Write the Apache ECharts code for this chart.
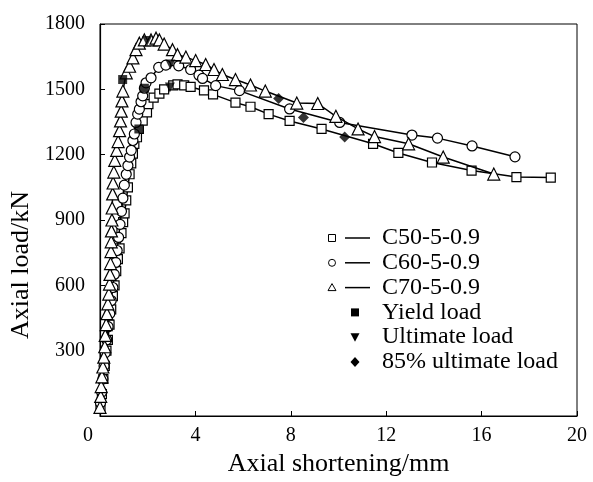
<!DOCTYPE html>
<html><head><meta charset="utf-8">
<script src="https://cdn.jsdelivr.net/npm/echarts@6/dist/echarts.min.js"></script>
<style>html,body{margin:0;padding:0;background:#fff}#c{width:593px;height:482px}</style>
</head><body><div id="c"></div>
<script>
const seriesNames = ['C50-5-0.9', 'C60-5-0.9', 'C70-5-0.9'];
const markerNames = ['Yield load', 'Ultimate load', '85% ultimate load'];
const xTitle = 'Axial shortening/mm';
const yTitle = 'Axial load/kN';

const c50 = [[0.02,40],[0.08,100],[0.14,170],[0.2,230],[0.27,300],[0.33,350],[0.4,420],[0.47,490],[0.54,550],[0.61,600],[0.68,665],[0.75,720],[0.82,770],[0.9,840],[0.97,890],[1.03,930],[1.1,990],[1.17,1050],[1.24,1110],[1.31,1160],[1.38,1205],[1.44,1250],[1.55,1280],[1.63,1318],[1.79,1356],[1.97,1394],[2.03,1432],[2.25,1462],[2.49,1480],[2.69,1500],[3.07,1518],[3.25,1523],[3.53,1518],[3.8,1511],[4.36,1495],[4.74,1477],[5.68,1439],[6.31,1420],[7.07,1386],[7.95,1355],[9.29,1318],[11.45,1250],[12.51,1208],[13.92,1164],[15.58,1127],[17.46,1097],[18.9,1095]];
const c60 = [[0.02,60],[0.07,110],[0.12,170],[0.17,230],[0.22,290],[0.28,350],[0.34,410],[0.41,470],[0.47,530],[0.54,590],[0.6,650],[0.66,705],[0.72,760],[0.78,820],[0.84,880],[0.9,940],[0.96,1000],[1.02,1060],[1.1,1110],[1.17,1150],[1.24,1189],[1.31,1220],[1.38,1265],[1.44,1295],[1.51,1348],[1.58,1386],[1.65,1409],[1.72,1443],[1.79,1470],[1.86,1505],[1.93,1530],[2.14,1553],[2.46,1601],[2.76,1611],[3.3,1608],[3.8,1591],[4.15,1565],[4.3,1550],[4.85,1517],[5.85,1494],[7.95,1410],[10.05,1348],[13.08,1290],[14.15,1276],[15.6,1240],[17.4,1190]];
const c70 = [[0.0,40],[0.03,90],[0.05,135],[0.08,180],[0.12,225],[0.16,270],[0.2,318],[0.22,370],[0.26,420],[0.29,470],[0.33,515],[0.37,560],[0.4,606],[0.42,650],[0.44,700],[0.46,755],[0.47,800],[0.48,850],[0.5,900],[0.51,955],[0.53,1020],[0.55,1070],[0.58,1120],[0.62,1174],[0.7,1220],[0.76,1260],[0.82,1310],[0.86,1355],[0.89,1400],[0.92,1447],[0.96,1492],[1.1,1576],[1.24,1606],[1.38,1644],[1.51,1682],[1.65,1712],[1.86,1727],[2.14,1727],[2.35,1735],[2.49,1727],[2.69,1708],[3.04,1682],[3.25,1659],[3.6,1648],[4.01,1632],[4.43,1614],[4.78,1591],[5.13,1568],[5.68,1545],[6.31,1520],[6.93,1492],[8.25,1437],[9.13,1435],[9.89,1376],[10.82,1318],[11.51,1283],[12.94,1250],[14.39,1189],[16.51,1111]];
const yieldPts = [[0.95,1545],[1.86,1505],[1.63,1318]];
const ultimatePts = [[1.97,1722],[2.95,1614],[2.93,1508]];
const pct85Pts = [[7.49,1458],[8.53,1371],[10.26,1281]];

const FONT = 'Liberation Serif';
const chart = echarts.init(document.getElementById('c'), null, {renderer: 'canvas'});

const lineSymbols = ['rect', 'circle', 'triangle'];
const lineSymbolSizes = [9, 10, 12];
const lineData = [c50, c60, c70];
const markData = [yieldPts, ultimatePts, pct85Pts];
const markSymbols = ['rect', 'triangle', 'diamond'];
const markRotate = [0, 180, 0];
const markSizes = [9, 10, 11];

const series = [];
lineData.forEach((d, i) => {
  series.push({
    name: seriesNames[i], type: 'line', data: d,
    symbol: lineSymbols[i], symbolSize: lineSymbolSizes[i], showAllSymbol: true,
    lineStyle: {color: '#000', width: 1.5},
    itemStyle: {color: '#fff', borderColor: '#000', borderWidth: 1.2},
    z: 2 + i, animation: false
  });
});
markData.forEach((d, i) => {
  series.push({
    name: markerNames[i], type: 'scatter', data: d,
    symbol: markSymbols[i], symbolSize: markSizes[i], symbolRotate: markRotate[i],
    itemStyle: {color: '#000'}, z: 10, animation: false
  });
});

// legend drawn as graphic elements
const legendX = 332, legendY = 238, rowH = 24.8, textX = 382;
const LEGEND_FONT = '24px "Liberation Serif"';
const graphic = [];
const legendShapes = [
  {type: 'rect', shape: {x: -3.5, y: -3.5, width: 7, height: 7}},
  {type: 'circle', shape: {cx: 0, cy: 0, r: 3.5}},
  {type: 'polygon', shape: {points: [[0, -4], [4, 3], [-4, 3]]}}
];
seriesNames.forEach((n, i) => {
  const y = legendY + i * rowH;
  graphic.push(Object.assign({}, legendShapes[i], {x: legendX, y: y, style: {fill: '#fff', stroke: '#000', lineWidth: 1}}));
  graphic.push({type: 'line', shape: {x1: 345, y1: y, x2: 370, y2: y}, style: {stroke: '#000', lineWidth: 1.5}});
  graphic.push({type: 'text', x: textX, y: y, style: {text: n, font: LEGEND_FONT, fill: '#000', verticalAlign: 'middle'}});
});
const markLegendShapes = [
  {type: 'rect', shape: {x: -4, y: -4, width: 8, height: 8}},
  {type: 'polygon', shape: {points: [[-4.5, -4], [4.5, -4], [0, 4.5]]}},
  {type: 'polygon', shape: {points: [[0, -5], [4.5, 0], [0, 5], [-4.5, 0]]}}
];
markerNames.forEach((n, i) => {
  const y = legendY + (i + 3) * rowH;
  graphic.push(Object.assign({}, markLegendShapes[i], {x: 355, y: y, style: {fill: '#000'}}));
  graphic.push({type: 'text', x: textX, y: y, style: {text: n, font: LEGEND_FONT, fill: '#000', verticalAlign: 'middle'}});
});

chart.setOption({
  backgroundColor: '#fff',
  animation: false,
  grid: {left: 97, right: 16, top: 24, bottom: 62, show: true, borderColor: '#000', borderWidth: 1},
  xAxis: {
    type: 'value', min: 0, max: 20, interval: 4,
    name: xTitle, nameLocation: 'middle', nameGap: 35,
    nameTextStyle: {fontFamily: FONT, fontSize: 26, color: '#000'},
    axisLine: {lineStyle: {color: '#000', width: 1.2}},
    axisTick: {inside: true, length: 5, lineStyle: {color: '#000'}},
    axisLabel: {
      fontFamily: FONT, fontSize: 20, color: '#000', margin: 10,
      formatter: v => v === 0 ? '{z|0}' : String(v),
      rich: {z: {fontFamily: FONT, fontSize: 20, color: '#000', padding: [0, 24, 0, 0]}}
    },
    splitLine: {show: false}
  },
  yAxis: {
    type: 'value', min: 0, max: 1800, interval: 300,
    name: yTitle, nameLocation: 'middle', nameGap: 66,
    nameTextStyle: {fontFamily: FONT, fontSize: 26, color: '#000', padding: [0, 90, 0, 0]},
    axisLine: {lineStyle: {color: '#000', width: 1.2}},
    axisTick: {inside: true, length: 5, lineStyle: {color: '#000'}},
    axisLabel: {fontFamily: FONT, fontSize: 20, color: '#000', margin: 15, showMinLabel: false, formatter: v => String(v)},
    splitLine: {show: false}
  },
  series: series,
  graphic: graphic
});
</script></body></html>
